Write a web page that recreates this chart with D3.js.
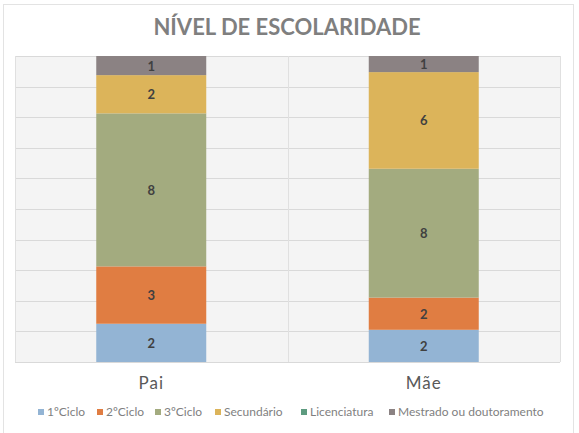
<!DOCTYPE html>
<html>
<head>
<meta charset="utf-8">
<script src="https://cdn.jsdelivr.net/npm/d3@7"></script>
<style>
  body { margin: 0; background: #fff; }
  svg { display: block; font-family: "Lato", "DejaVu Sans", sans-serif; }
</style>
</head>
<body>
<svg></svg>
<script>
var categories = ["Pai", "Mãe"];
var series = ["1ºCiclo", "2ºCiclo", "3ºCiclo", "Secundário", "Licenciatura", "Mestrado ou doutoramento"];
var paiValues = [2, 3, 8, 2, 0, 1];
var maeValues = [2, 2, 8, 6, 0, 1];
var yTicks = [0, 0.1, 0.2, 0.3, 0.4, 0.5, 0.6, 0.7, 0.8, 0.9, 1];
var colors = ["#93b4d4", "#e07d42", "#a3ab7f", "#dcb45a", "#5d9b80", "#8b8283"];

var width = 579, height = 433;
var svg = d3.select("svg").attr("width", width).attr("height", height);

// outer chart frame
svg.append("rect")
  .attr("x", 3.5).attr("y", 4.5)
  .attr("width", 570).attr("height", 440)
  .attr("fill", "#fff")
  .attr("stroke", "#e3e3e3");

svg.append("text")
  .attr("x", 287).attr("y", 35)
  .attr("text-anchor", "middle")
  .attr("font-size", 22)
  .attr("font-weight", "bold")
  .attr("fill", "#7f7f7f")
  .text("NÍVEL DE ESCOLARIDADE");

var table = categories.map((c, i) => {
  var row = { cat: c };
  var vals = i === 0 ? paiValues : maeValues;
  series.forEach((s, j) => row[s] = vals[j]);
  return row;
});

var stacked = d3.stack()
  .keys(series)
  .offset(d3.stackOffsetExpand)(table);

var x = d3.scaleBand().domain(categories).range([15, 560]);
var y = d3.scaleLinear().domain([0, 1]).range([362, 56]);
var barW = 110;

var plot = svg.append("g");
plot.append("rect")
  .attr("x", 15).attr("y", 56)
  .attr("width", 545).attr("height", 306)
  .attr("fill", "#f4f4f4");

plot.selectAll("line.h")
  .data(yTicks)
  .enter().append("line")
    .attr("x1", 15).attr("x2", 560)
    .attr("y1", d => Math.round(y(d)) + 0.5)
    .attr("y2", d => Math.round(y(d)) + 0.5)
    .attr("stroke", "#d9d9d9");

plot.selectAll("line.v")
  .data([15, x("Mãe"), 560])
  .enter().append("line")
    .attr("x1", d => Math.round(d) + 0.5).attr("x2", d => Math.round(d) + 0.5)
    .attr("y1", 56).attr("y2", 362)
    .attr("stroke", "#e0e0e0");

var layers = svg.append("g")
  .selectAll("g")
  .data(stacked)
  .enter().append("g")
    .attr("fill", (d, i) => colors[i]);

layers.selectAll("rect")
  .data(d => d)
  .enter().append("rect")
    .attr("x", d => x(d.data.cat) + x.bandwidth() / 2 - barW / 2)
    .attr("y", d => y(d[1]))
    .attr("width", barW)
    .attr("height", d => y(d[0]) - y(d[1]));

layers.selectAll("text")
  .data((d, i) => d.map(p => ({ p: p, v: p.data[series[i]] })).filter(o => o.v > 0))
  .enter().append("text")
    .attr("x", d => x(d.p.data.cat) + x.bandwidth() / 2)
    .attr("y", d => (y(d.p[0]) + y(d.p[1])) / 2 + 5)
    .attr("text-anchor", "middle")
    .attr("font-size", 13)
    .attr("font-weight", "bold")
    .attr("fill", "#404040")
    .text(d => d.v);

svg.append("g")
  .selectAll("text")
  .data(categories)
  .enter().append("text")
    .attr("x", d => x(d) + x.bandwidth() / 2)
    .attr("y", 389)
    .attr("text-anchor", "middle")
    .attr("font-size", 17)
    .attr("letter-spacing", 1)
    .attr("fill", "#595959")
    .text(d => d);

// legend
var legendX = [38, 97, 155, 215, 301, 389];
var legend = svg.append("g")
  .selectAll("g")
  .data(series)
  .enter().append("g")
    .attr("transform", (d, i) => "translate(" + legendX[i] + ",416)");

legend.append("rect")
  .attr("x", 0).attr("y", -7)
  .attr("width", 6).attr("height", 6)
  .attr("fill", (d, i) => colors[i]);

legend.append("text")
  .attr("x", 9).attr("y", 0)
  .attr("font-size", 12)
  .attr("fill", "#7f7f7f")
  .text(d => d);
</script>
</body>
</html>
